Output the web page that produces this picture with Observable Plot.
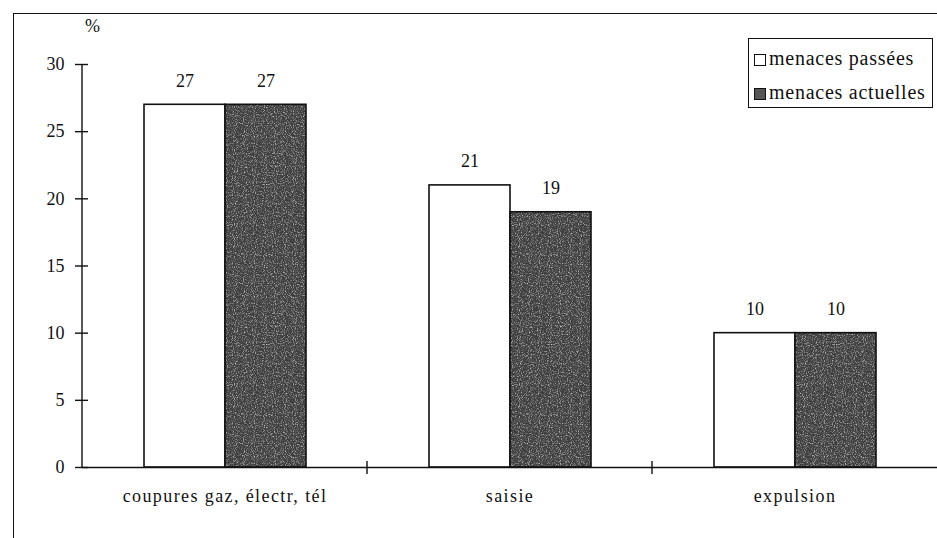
<!DOCTYPE html>
<html>
<head>
<meta charset="utf-8">
<script src="https://cdn.jsdelivr.net/npm/d3@7"></script>
<script src="https://cdn.jsdelivr.net/npm/@observablehq/plot@0.6"></script>
<style>
  html, body { margin: 0; padding: 0; background: #fff; }
  #wrap { position: relative; width: 937px; height: 538px; overflow: hidden; font-family: "Liberation Serif", "Times New Roman", serif; color: #111; }
  #frame { position: absolute; left: 13px; top: 13px; width: 940px; height: 540px; border-top: 1.5px solid #111; border-left: 1.5px solid #111; box-sizing: border-box; }
  #pct { position: absolute; left: 85px; top: 16px; font-size: 18px; font-family: "Liberation Serif", serif; }
  #legend { position: absolute; left: 748px; top: 38px; width: 185px; height: 70px; border: 1.5px solid #111; box-sizing: border-box; background: #fff; }
  .row { position: absolute; left: 5px; font-family: "Liberation Serif", serif; font-size: 20px; letter-spacing: 0.75px; white-space: nowrap; line-height: 20px; }
  .sw { display: inline-block; width: 12px; height: 12px; border: 1.5px solid #111; box-sizing: border-box; margin-right: 3px; vertical-align: -1px; }
  svg { position: absolute; left: 0; top: 0; }
</style>
</head>
<body>
<div id="wrap">
  <div id="frame"></div>
</div>
<script>
const categories = ["coupures gaz, électr, tél", "saisie", "expulsion"];
const series = ["menaces passées", "menaces actuelles"];
const passees = [27, 21, 10];
const actuelles = [27, 19, 10];
const yTicks = [0, 5, 10, 15, 20, 25, 30];
const yLabel = "%";

const data = categories.flatMap((c, i) => [
  {cat: c, s: series[0], v: passees[i]},
  {cat: c, s: series[1], v: actuelles[i]}
]);

const chart = Plot.plot({
  width: 937,
  height: 538,
  marginLeft: 82,
  marginRight: 0,
  marginTop: 64,
  marginBottom: 71,
  style: {fontFamily: "Liberation Serif, serif", fontSize: "18px", background: "transparent", color: "#111", overflow: "visible"},
  fx: {domain: categories, padding: 0, label: null},
  x: {domain: series, paddingInner: 0, paddingOuter: 0.738, axis: null},
  y: {domain: [0, 30], label: null},
  color: {domain: series, range: ["white", "url(#grain)"]},
  marks: [
    Plot.barY(data, {fx: "cat", x: "s", y: "v", fill: "s", stroke: "#111", strokeWidth: 1.6}),
    Plot.text(data, {fx: "cat", x: "s", y: "v", text: d => String(d.v), dy: -24, fontSize: 18, fill: "#111"}),
    Plot.ruleY([0], {stroke: "#111", strokeWidth: 1.6}),
    Plot.axisY(yTicks, {tickSize: 13, dx: 6, tickPadding: 11, label: null, fontSize: 18, strokeWidth: 1.4}),
    Plot.axisFx({anchor: "bottom", tickSize: 0, tickPadding: 22, label: null, fontSize: 18})
  ]
});

document.getElementById("wrap").appendChild(chart);

const svg = d3.select(chart);
svg.selectAll('[aria-label="fx-axis tick label"] text').attr("letter-spacing", "1.4px");

// texture for the dark bars
const defs = svg.insert("defs", ":first-child");
const f = defs.append("filter").attr("id", "noise").attr("x", 0).attr("y", 0).attr("width", "100%").attr("height", "100%");
f.append("feTurbulence").attr("type", "fractalNoise").attr("baseFrequency", 0.9).attr("numOctaves", 2).attr("seed", 4);
f.append("feColorMatrix").attr("type", "matrix").attr("values", "0 0 0 0 0.75  0 0 0 0 0.75  0 0 0 0 0.75  2.2 0 0 0 -1.05");
const pat = defs.append("pattern").attr("id", "grain").attr("patternUnits", "userSpaceOnUse").attr("width", 160).attr("height", 160);
pat.append("rect").attr("width", 160).attr("height", 160).attr("fill", "#3f3f3f");
pat.append("rect").attr("width", 160).attr("height", 160).attr("filter", "url(#noise)");

// axis line and category boundary ticks from the library's scales
const fxs = chart.scale("fx");
const ys = chart.scale("y");
const band = d3.scaleBand().domain(fxs.domain).range(fxs.range)
  .paddingInner(fxs.paddingInner || 0).paddingOuter(fxs.paddingOuter || 0);
const yS = d3.scaleLinear().domain(ys.domain).range(ys.range);
const g = svg.append("g").attr("stroke", "#111").attr("stroke-width", 1.4);
const x0 = band(categories[0]);
g.append("line").attr("x1", x0).attr("x2", x0).attr("y1", yS(0) + 1).attr("y2", yS(30));
categories.slice(1).forEach(c => {
  const x = band(c);
  g.append("line").attr("x1", x).attr("x2", x).attr("y1", yS(0) - 6).attr("y2", yS(0) + 7);
});

// y label and legend
const wrap = document.getElementById("wrap");
const pct = document.createElement("div");
pct.id = "pct"; pct.textContent = yLabel;
wrap.appendChild(pct);
const leg = document.createElement("div");
leg.id = "legend";
series.forEach((s, i) => {
  const row = document.createElement("div");
  row.className = "row";
  row.style.top = (i === 0 ? 9 : 43) + "px";
  const sw = document.createElement("span");
  sw.className = "sw";
  sw.style.background = i === 0 ? "#fff" : "#555";
  row.appendChild(sw);
  row.appendChild(document.createTextNode(s));
  leg.appendChild(row);
});
wrap.appendChild(leg);
</script>
</body>
</html>
